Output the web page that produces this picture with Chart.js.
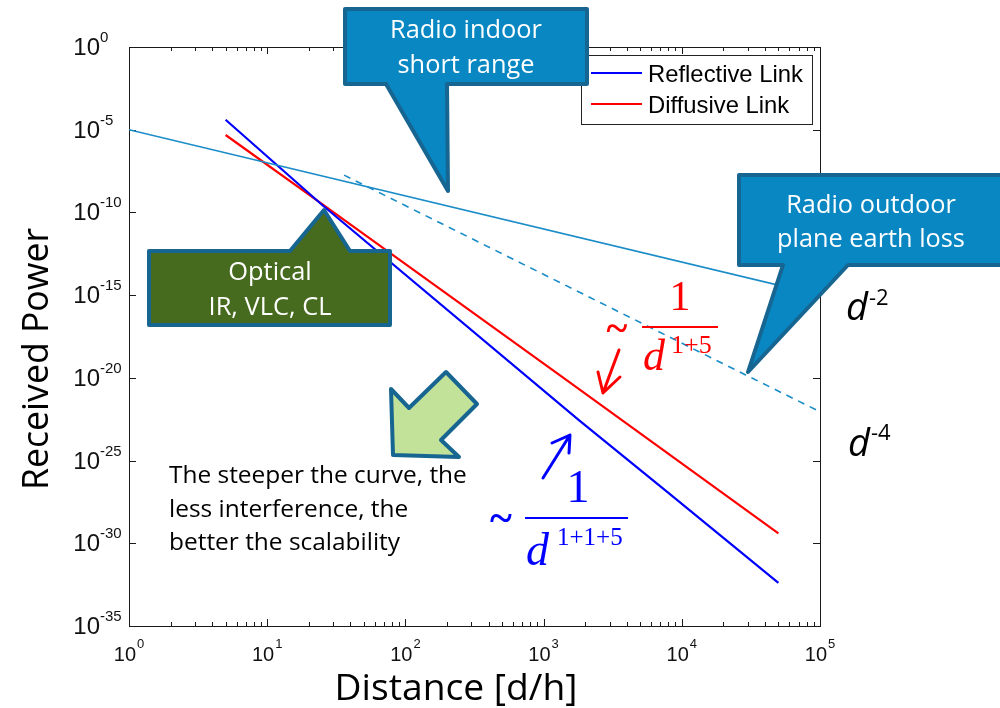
<!DOCTYPE html>
<html>
<head>
<meta charset="utf-8">
<script src="https://cdn.jsdelivr.net/npm/chart.js@4.4.1/dist/chart.umd.min.js"></script>
<style>
  html, body { margin: 0; padding: 0; background: #fff; }
  #wrap { width: 1000px; height: 708px; position: relative; }
</style>
</head>
<body>
<div id="wrap"><canvas id="c" width="1000" height="708"></canvas></div>
<script>
// Normalised distance d/h and received power for each link type
const reflectiveD = [5, 25, 1800, 8000, 50000];
const reflectiveP = [4e-5, 2.8e-10, 2.8e-23, 1.1e-27, 4e-33];
const diffusiveD  = [5, 25, 1300, 50000];
const diffusiveP  = [4.8e-6, 3.2e-10, 1.5e-20, 4e-30];
const indoorD     = [1, 100000];
const indoorP     = [1e-5, 1e-15];
const outdoorD    = [36, 29000, 100000];
const outdoorP    = [1.8e-8, 1.5e-20, 9e-23];

// Decade exponents that carry a tick label
const xTickExps = [0, 1, 2, 3, 4, 5];
const yTickExps = [0, -5, -10, -15, -20, -25, -30, -35];

const pairs = (xs, ys) => xs.map((v, i) => ({ x: v, y: ys[i] }));

const SANS = '"Open Sans", "Noto Sans", sans-serif';
const ARIAL = '"Liberation Sans", Arial, sans-serif';
const SERIF = '"Liberation Serif", "Times New Roman", serif';
const CALLOUT_EDGE = '#176591';

function fitSize(ctx, text, font, style, target) {
  ctx.font = `${style} 100px ${font}`;
  return 100 * target / ctx.measureText(text).width;
}

function calloutPath(ctx, pts) {
  ctx.beginPath();
  ctx.moveTo(pts[0][0], pts[0][1]);
  for (let i = 1; i < pts.length; i++) ctx.lineTo(pts[i][0], pts[i][1]);
  ctx.closePath();
}

function drawShape(ctx, pts, fill) {
  ctx.save();
  calloutPath(ctx, pts);
  ctx.fillStyle = fill;
  ctx.fill();
  ctx.lineWidth = 4;
  ctx.lineJoin = 'round';
  ctx.strokeStyle = CALLOUT_EDGE;
  ctx.stroke();
  ctx.restore();
}

function centeredLines(ctx, lines, cx, baselines, targetWidth, color) {
  const longest = lines.reduce((a, b) => (a.length > b.length ? a : b));
  const size = fitSize(ctx, longest, SANS, 'normal', targetWidth);
  ctx.font = `normal ${size}px ${SANS}`;
  ctx.fillStyle = color;
  ctx.textAlign = 'center';
  ctx.textBaseline = 'alphabetic';
  lines.forEach((t, i) => ctx.fillText(t, cx, baselines[i]));
}

function arrow(ctx, from, tip, wingA, wingB, color) {
  ctx.save();
  ctx.strokeStyle = color;
  ctx.lineWidth = 3;
  ctx.lineCap = 'round';
  ctx.lineJoin = 'round';
  ctx.beginPath();
  ctx.moveTo(from[0], from[1]); ctx.lineTo(tip[0], tip[1]);
  ctx.moveTo(wingA[0], wingA[1]); ctx.lineTo(tip[0], tip[1]); ctx.lineTo(wingB[0], wingB[1]);
  ctx.stroke();
  ctx.restore();
}

const axesBox = {
  id: 'axesBox',
  beforeDatasetsDraw(chart) {
    const { ctx, chartArea: a, scales: { x, y } } = chart;
    ctx.save();
    ctx.strokeStyle = '#1a1a1a';
    ctx.lineWidth = 1;
    ctx.strokeRect(a.left + 0.5, a.top + 0.5, a.right - a.left, a.bottom - a.top);
    ctx.beginPath();
    // x ticks: decades plus 2..9 minor ticks, bottom and top, pointing inward
    for (let e = xTickExps[0]; e <= xTickExps[xTickExps.length - 1]; e++) {
      for (let m = 1; m <= 9; m++) {
        const v = m * Math.pow(10, e);
        if (v > x.max) break;
        const px = Math.round(x.getPixelForValue(v)) + 0.5;
        const len = m === 1 ? 7 : 4;
        ctx.moveTo(px, a.bottom); ctx.lineTo(px, a.bottom - len);
        ctx.moveTo(px, a.top); ctx.lineTo(px, a.top + len);
      }
    }
    yTickExps.forEach(e => {
      const py = Math.round(y.getPixelForValue(Math.pow(10, e))) + 0.5;
      ctx.moveTo(a.left, py); ctx.lineTo(a.left + 7, py);
      ctx.moveTo(a.right, py); ctx.lineTo(a.right - 7, py);
    });
    ctx.stroke();
    ctx.restore();
  },
  afterDatasetsDraw(chart) {
    const { ctx, chartArea: a, scales: { x, y } } = chart;
    ctx.save();
    ctx.fillStyle = '#111';
    ctx.textBaseline = 'alphabetic';

    // y tick labels: "10" right-aligned, exponent raised after it
    yTickExps.forEach(e => {
      const py = y.getPixelForValue(Math.pow(10, e));
      ctx.font = `24px ${ARIAL}`;
      ctx.textAlign = 'right';
      ctx.fillText('10', a.left - 29, py + 8);
      ctx.font = `15px ${ARIAL}`;
      ctx.textAlign = 'left';
      ctx.fillText(String(e), a.left - 29, py - 5);
    });

    // x tick labels centred on each decade
    xTickExps.forEach(e => {
      const px = x.getPixelForValue(Math.pow(10, e));
      ctx.font = `20px ${ARIAL}`;
      const w1 = ctx.measureText('10').width;
      ctx.font = `13px ${ARIAL}`;
      const w2 = ctx.measureText(String(e)).width;
      const start = px - (w1 + w2 + 1) / 2;
      ctx.textAlign = 'left';
      ctx.font = `20px ${ARIAL}`;
      ctx.fillText('10', start, a.bottom + 35);
      ctx.font = `13px ${ARIAL}`;
      ctx.fillText(String(e), start + w1 + 1, a.bottom + 22);
    });

    // axis titles
    ctx.fillStyle = '#000';
    let s = fitSize(ctx, 'Distance [d/h]', SANS, 'normal', 243);
    ctx.font = `normal ${s}px ${SANS}`;
    ctx.textAlign = 'center';
    ctx.fillText('Distance [d/h]', 456, 700);

    s = fitSize(ctx, 'Received Power', SANS, 'normal', 262);
    ctx.save();
    ctx.translate(48, 359);
    ctx.rotate(-Math.PI / 2);
    ctx.font = `normal ${s}px ${SANS}`;
    ctx.textAlign = 'center';
    ctx.fillText('Received Power', 0, 0);
    ctx.restore();

    // legend for the two optical links
    const items = chart.data.datasets
      .filter(d => d.legendRank !== undefined)
      .sort((p, q) => p.legendRank - q.legendRank);
    ctx.fillStyle = '#fff';
    ctx.fillRect(581, 55, 231, 69);
    ctx.strokeStyle = '#222';
    ctx.lineWidth = 1;
    ctx.strokeRect(581.5, 55.5, 231, 69);
    const ls = fitSize(ctx, 'Reflective Link', ARIAL, 'normal', 155);
    items.forEach((d, i) => {
      const ly = 73 + i * 31;
      ctx.strokeStyle = d.borderColor;
      ctx.lineWidth = 2;
      ctx.beginPath(); ctx.moveTo(591, ly); ctx.lineTo(642, ly); ctx.stroke();
      ctx.fillStyle = '#000';
      ctx.font = `normal ${ls}px ${ARIAL}`;
      ctx.textAlign = 'left';
      ctx.fillText(d.label, 648, ly + 9);
    });

    // slope labels at the right of the frame
    [['-2', 320, 305, 846], ['-4', 456, 440, 848]].forEach(([ex, base, expBase, lx]) => {
      ctx.fillStyle = '#000';
      ctx.textAlign = 'left';
      ctx.font = `italic 38px ${SANS}`;
      ctx.fillText('d', lx, base);
      const dw = ctx.measureText('d').width;
      ctx.font = `normal 22px ${SANS}`;
      ctx.fillText(ex, lx + dw + 1, expBase);
    });

    // diffusive link slope formula
    ctx.fillStyle = '#ff0000';
    ctx.textAlign = 'center';
    ctx.font = `bold 40px ${SERIF}`;
    ctx.fillText('~', 617, 341);
    ctx.font = `42px ${SERIF}`;
    ctx.fillText('1', 680, 310);
    ctx.fillRect(642, 326, 76, 2);
    ctx.textAlign = 'left';
    ctx.font = `italic 44px ${SERIF}`;
    ctx.fillText('d', 643, 370);
    ctx.font = `26px ${SERIF}`;
    ctx.fillText('1+5', 671, 353);
    arrow(ctx, [619, 350], [603, 393], [598, 372], [620, 377], '#ff0000');

    // reflective link slope formula
    ctx.fillStyle = '#0000ff';
    ctx.textAlign = 'center';
    ctx.font = `bold 42px ${SERIF}`;
    ctx.fillText('~', 501, 532);
    ctx.font = `46px ${SERIF}`;
    ctx.fillText('1', 578, 502);
    ctx.fillRect(525, 517, 103, 2);
    ctx.textAlign = 'left';
    ctx.font = `italic 46px ${SERIF}`;
    ctx.fillText('d', 526, 565);
    ctx.font = `25px ${SERIF}`;
    ctx.fillText('1+1+5', 557, 545);
    arrow(ctx, [543, 478], [570, 435], [552, 443], [569, 453], '#0000ff');

    // callouts
    drawShape(ctx, [[345, 9], [587, 9], [587, 84], [447, 84], [448, 191], [386, 84], [345, 84]], '#0887c3');
    centeredLines(ctx, ['Radio indoor', 'short range'], 466, [38, 73], 152, '#fff');

    drawShape(ctx, [[739, 175], [1006, 175], [1006, 265], [848, 265], [748, 372], [783, 265], [739, 265]], '#0887c3');
    centeredLines(ctx, ['Radio outdoor', 'plane earth loss'], 871, [213, 247], 188, '#fff');

    drawShape(ctx, [[149, 251], [290, 251], [324, 210], [350, 251], [390, 251], [390, 325], [149, 325]], '#466a1e');
    centeredLines(ctx, ['Optical', 'IR, VLC, CL'], 270, [280, 315], 123, '#fff');

    drawShape(ctx, [[393, 455], [391, 389], [409, 408], [446, 372], [477, 404], [441, 440], [459, 457]], '#c2e29a');

    // note beside the arrow
    const ns = fitSize(ctx, 'The steeper the curve, the', SANS, 'normal', 298);
    ctx.font = `normal ${ns}px ${SANS}`;
    ctx.fillStyle = '#000';
    ctx.textAlign = 'left';
    ctx.fillText('The steeper the curve, the', 169, 483);
    ctx.fillText('less interference, the', 169, 517);
    ctx.fillText('better the scalability', 169, 550);

    ctx.restore();
  }
};

new Chart(document.getElementById('c'), {
  type: 'scatter',
  data: {
    datasets: [
      { label: 'Radio indoor', data: pairs(indoorD, indoorP), showLine: true,
        borderColor: '#1a8cc8', borderWidth: 1.6 },
      { label: 'Radio outdoor', data: pairs(outdoorD, outdoorP), showLine: true,
        borderColor: '#1a8cc8', borderWidth: 1.6, borderDash: [7, 6] },
      { label: 'Diffusive Link', data: pairs(diffusiveD, diffusiveP), showLine: true,
        borderColor: '#ff0000', borderWidth: 2.2, legendRank: 1, order: 1 },
      { label: 'Reflective Link', data: pairs(reflectiveD, reflectiveP), showLine: true,
        borderColor: '#0000ff', borderWidth: 2.2, legendRank: 0, order: 0 }
    ]
  },
  options: {
    responsive: false,
    animation: false,
    devicePixelRatio: 1,
    layout: { padding: { left: 129, top: 47, right: 180, bottom: 82 } },
    elements: { point: { radius: 0, hoverRadius: 0 }, line: { tension: 0 } },
    plugins: { legend: { display: false }, tooltip: { enabled: false } },
    scales: {
      x: { type: 'logarithmic', min: 1, max: 1e5, display: false },
      y: { type: 'logarithmic', min: 1e-35, max: 1, display: false }
    }
  },
  plugins: [axesBox]
});
</script>
</body>
</html>
